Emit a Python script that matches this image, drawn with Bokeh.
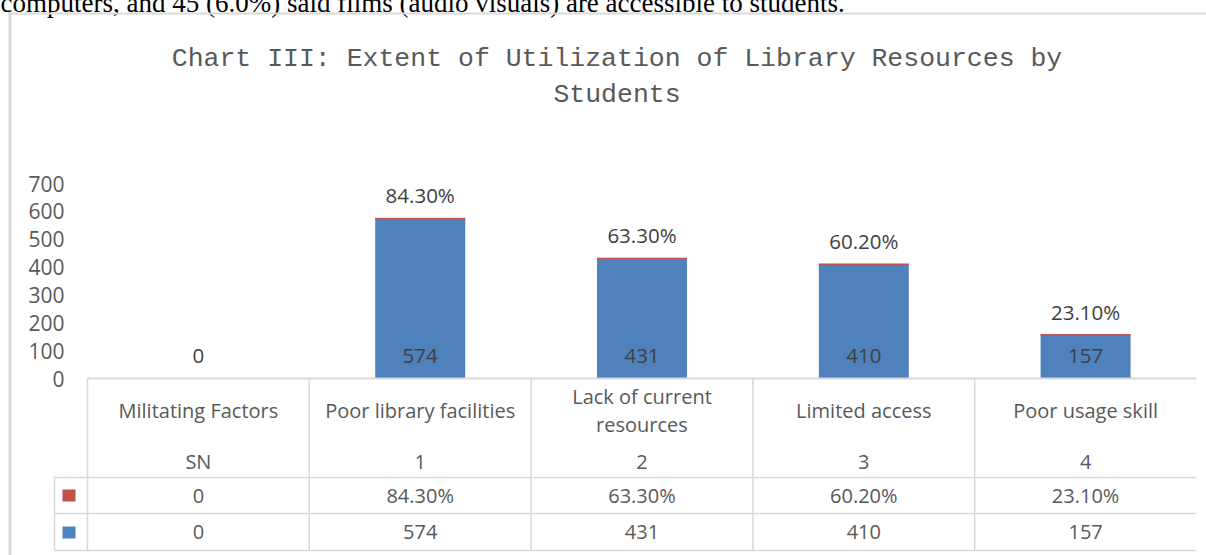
import textwrap
from bokeh.plotting import figure
from bokeh.models import Range1d, FixedTicker
from bokeh.core.properties import value
from bokeh.embed import file_html
from bokeh.resources import INLINE

# ---------------- data ----------------
categories = ["Militating Factors", "Poor library facilities", "Lack of current resources",
              "Limited access", "Poor usage skill"]
sn_labels = ["SN", "1", "2", "3", "4"]
counts = [0, 574, 431, 410, 157]
percents = [0, 84.3, 63.3, 60.2, 23.1]
y_ticks = [0, 100, 200, 300, 400, 500, 600, 700]
title_lines = ["Chart III: Extent of Utilization of Library Resources by", "Students"]
body_text = "computers, and 45 (6.0%) said films (audio visuals) are accessible to students."

# ---------------- layout helpers ----------------
W, H = 1206, 555
PX_PER_UNIT = 195 / 700.0          # vertical scale (pixels per count)
CAT_PX = 221.8                     # pixels per category column


def yv(py):
    """canvas y pixel -> data y"""
    return (378 - py) / PX_PER_UNIT


def xv(px):
    """canvas x pixel -> data x"""
    return (px - 87) / CAT_PX


GRID = "#d9d9d9"
TXT = "#595959"
LBL = "#404040"
BLUE = "#4f81bd"
RED = "#c0504d"
FONT = value("Open Sans")

p = figure(width=W, height=H, output_backend="svg", toolbar_location=None,
           x_range=Range1d(0, len(categories)), y_range=Range1d(yv(H), yv(0)),
           x_axis_location=None, min_border_left=87, min_border_right=W - 1196,
           min_border_top=0, min_border_bottom=0, title=None)
p.outline_line_color = None
p.grid.visible = False
p.background_fill_color = "white"
p.border_fill_color = "white"

ax = p.yaxis[0]
ax.ticker = FixedTicker(ticks=y_ticks)
ax.axis_line_color = None
ax.major_tick_line_color = None
ax.minor_tick_line_color = None
ax.major_tick_out = 0
ax.major_label_standoff = 23
ax.major_label_text_font = "Open Sans"
ax.major_label_text_font_size = "21px"
ax.major_label_text_color = TXT

xs = [i + 0.5 for i in range(len(categories))]
bar_w = 90 / CAT_PX

# text of the page above the chart (cut off at the top, as in the source page)
p.text(x=[xv(0)], y=[yv(2)], text=[body_text], text_font=value("Liberation Serif"),
       text_font_size="27px", text_color="#000000", text_align="left",
       text_baseline="alphabetic", level="overlay")

# chart frame border (outer)
p.segment(x0=[xv(9.5), xv(8)], y0=[yv(12), yv(13)], x1=[xv(9.5), xv(W)], y1=[yv(H), yv(13)],
          line_color=GRID, line_width=[3, 2], level="overlay")

# title
p.text(x=[xv(616.5)] * 2, y=[yv(58), yv(94)], text=title_lines,
       text_font=value("Liberation Mono"), text_font_size="26.5px", text_color=TXT,
       text_align="center", text_baseline="middle", level="overlay")

# bars
tops_red = [c + pc / 100.0 for c, pc in zip(counts, percents)]
red_lines = [RED if pc > 0 else None for pc in percents]
p.vbar(x=xs, bottom=0, top=counts, width=bar_w, fill_color=BLUE, line_color=None)
p.vbar(x=xs, bottom=counts, top=tops_red, width=bar_w, fill_color=RED, line_color=red_lines,
       line_width=1)

# data labels
p.text(x=xs, y=[yv(355)] * len(xs), text=[str(c) for c in counts],
       text_font=FONT, text_font_size="20.5px", text_color=LBL,
       text_align="center", text_baseline="middle")
pct_text = [("%.2f%%" % pc) if pc else "0" for pc in percents]
p.text(x=xs[1:], y=[t + 23 / PX_PER_UNIT for t in tops_red[1:]], text=pct_text[1:],
       text_font=FONT, text_font_size="20.5px", text_color=LBL,
       text_align="center", text_baseline="middle")

# data table lines
col_edges = [87 + i * CAT_PX for i in range(len(categories) + 1)]
rows = [378, 477, 513, 550]
hx0 = [xv(87), xv(54), xv(54), xv(54)]
p.segment(x0=hx0, y0=[yv(r) for r in rows], x1=[xv(1196)] * 4, y1=[yv(r) for r in rows],
          line_color=GRID, line_width=[2, 1.5, 1.5, 1.5], level="overlay")
vx = [xv(e) for e in col_edges[:-1]] + [xv(54)]
vy0 = [yv(378)] * (len(col_edges) - 1) + [yv(477)]
p.segment(x0=vx, y0=vy0, x1=vx, y1=[yv(550)] * len(vx),
          line_color=GRID, line_width=1.5, level="overlay")

# table texts
names = [textwrap.fill(c, 23) for c in categories]
p.text(x=xs, y=[yv(410)] * len(xs), text=names, text_font=FONT, text_font_size="20px",
       text_color=TXT, text_align="center", text_baseline="middle", text_line_height=1.03)
p.text(x=xs, y=[yv(461)] * len(xs), text=sn_labels, text_font=FONT, text_font_size="20px",
       text_color=TXT, text_align="center", text_baseline="middle")
p.text(x=xs, y=[yv(495)] * len(xs), text=pct_text, text_font=FONT, text_font_size="20px",
       text_color=TXT, text_align="center", text_baseline="middle")
p.text(x=xs, y=[yv(531)] * len(xs), text=[str(c) for c in counts], text_font=FONT,
       text_font_size="20px", text_color=TXT, text_align="center", text_baseline="middle")

# legend keys in table
p.rect(x=[xv(68.5)] * 2, y=[yv(495), yv(532)], width=13, height=12,
       width_units="screen", height_units="screen", fill_color=[RED, BLUE], line_color=None,
       level="overlay")

open("out.html", "w").write(file_html(p, INLINE))
